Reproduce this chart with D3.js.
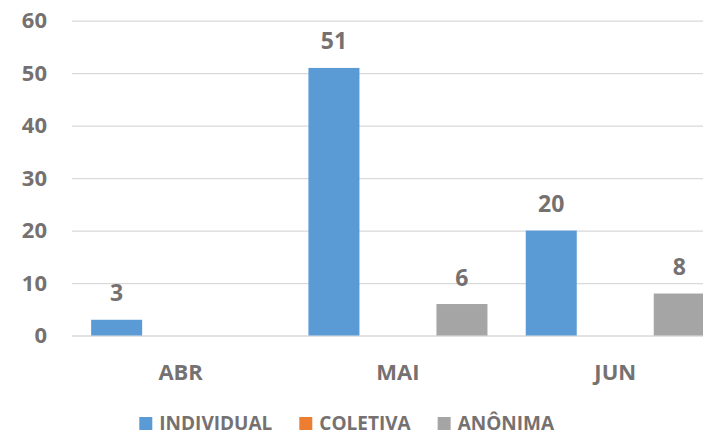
<!DOCTYPE html>
<html>
<head>
<meta charset="utf-8">
<script src="https://cdn.jsdelivr.net/npm/d3@7"></script>
<style>
  body { margin: 0; background: #fff; }
  svg { display: block; overflow: hidden; }
  text { font-family: "Open Sans", sans-serif; font-weight: bold; fill: #767171; }
</style>
</head>
<body>
<div id="chart"></div>
<script>
// chart values
var months = ["ABR", "MAI", "JUN"]
var seriesNames = ["INDIVIDUAL", "COLETIVA", "ANÔNIMA"]
var individual = [3, 51, 20]
var coletiva = [0, 0, 0]
var anonima = [0, 6, 8]
var yTicks = [0, 10, 20, 30, 40, 50, 60]
var colors = ["#5B9BD5", "#ED7D31", "#A5A5A5"]

var W = 703, H = 436
var margin = {top: 20.7, left: 72, bottom: 436 - 335.5}
var plotRight = 72 + 3 * 217.3   // plot runs past the picture edge

var svg = d3.select("#chart")
  .append("svg")
    .attr("width", W)
    .attr("height", H)

var y = d3.scaleLinear()
  .domain([0, 60])
  .range([H - margin.bottom, margin.top])

var x = d3.scaleBand()
  .domain(months)
  .range([margin.left, plotRight])
  .padding(0)

var xs = d3.scaleBand()
  .domain(seriesNames)
  .range([0, x.bandwidth()])
  .paddingInner(0.203)
  .paddingOuter(0.299)

var color = d3.scaleOrdinal().domain(seriesNames).range(colors)

// gridlines + tick labels
var yAxis = svg.append("g")
  .attr("transform", "translate(" + margin.left + ",0)")
  .call(d3.axisLeft(y).tickValues(yTicks).tickSize(-(plotRight - margin.left)).tickPadding(25))
yAxis.select(".domain").remove()
yAxis.selectAll(".tick line").attr("stroke", "#D9D9D9").attr("stroke-width", 1.3)
yAxis.selectAll(".tick text")
  .attr("font-size", 22)
  .attr("font-family", null)
  .attr("fill", "#767171")

// bars
var table = months.map(function(m, i) {
  return {month: m, values: [individual[i], coletiva[i], anonima[i]]}
})

var groups = svg.selectAll(".grp")
  .data(table)
  .enter()
  .append("g")
    .attr("class", "grp")
    .attr("transform", function(d) { return "translate(" + x(d.month) + ",0)" })

groups.selectAll("rect")
  .data(function(d) {
    return d.values.map(function(v, j) { return {name: seriesNames[j], value: v} })
  })
  .enter()
  .append("rect")
    .attr("x", function(d) { return xs(d.name) })
    .attr("y", function(d) { return y(d.value) })
    .attr("width", xs.bandwidth())
    .attr("height", function(d) { return y(0) - y(d.value) })
    .attr("fill", function(d) { return color(d.name) })

// value labels (only non-zero)
groups.selectAll(".lbl")
  .data(function(d) {
    return d.values.map(function(v, j) { return {name: seriesNames[j], value: v} })
      .filter(function(d) { return d.value > 0 })
  })
  .enter()
  .append("text")
    .attr("class", "lbl")
    .attr("x", function(d) { return xs(d.name) + xs.bandwidth() / 2 })
    .attr("y", function(d) { return y(d.value) - 18.5 })
    .attr("text-anchor", "middle")
    .attr("font-size", 23)
    .text(function(d) { return d.value })

// category labels
svg.selectAll(".cat")
  .data(months)
  .enter()
  .append("text")
    .attr("class", "cat")
    .attr("x", function(d) { return x(d) + x.bandwidth() / 2 })
    .attr("y", 380)
    .attr("text-anchor", "middle")
    .attr("font-size", 22)
    .text(function(d) { return d })

// legend
var legend = svg.append("g")
var lx = 0
seriesNames.forEach(function(name, i) {
  var item = legend.append("g").attr("transform", "translate(" + lx + ",0)")
  item.append("rect")
    .attr("x", 0).attr("y", 417)
    .attr("width", 13).attr("height", 13)
    .attr("fill", color(name))
  var t = item.append("text")
    .attr("x", 20).attr("y", 430)
    .attr("font-size", 19)
    .text(name)
  lx += 20 + t.node().getComputedTextLength() + 27
})
var legendWidth = lx - 27
legend.attr("transform", "translate(" + (346.7 - legendWidth / 2) + ",0)")
</script>
</body>
</html>
